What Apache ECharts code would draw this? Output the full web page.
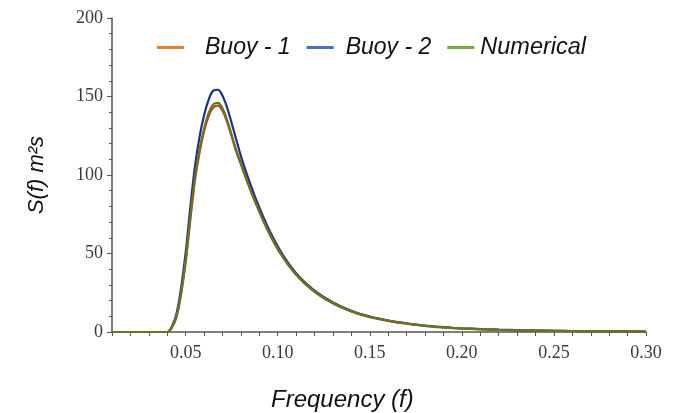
<!DOCTYPE html>
<html>
<head>
<meta charset="utf-8">
<script src="https://cdn.jsdelivr.net/npm/echarts@6/dist/echarts.min.js"></script>
<style>
html,body{margin:0;padding:0;background:#fff;}
#chart{width:678px;height:413px;}
</style>
</head>
<body>
<div id="chart"></div>
<script>
// Frequency grid (Hz)
var freq = [0.010,0.020,0.030,0.035,0.0375,0.040,0.0425,0.045,0.0475,0.050,0.0525,0.055,0.0575,0.060,0.0625,0.065,0.0675,0.070,0.0725,0.075,0.0775,0.080,0.0825,0.085,0.0875,0.090,0.0925,0.095,0.0975,0.100,0.1025,0.105,0.1075,0.110,0.1125,0.115,0.1175,0.120,0.1225,0.125,0.1275,0.130,0.135,0.140,0.145,0.150,0.155,0.160,0.165,0.170,0.175,0.180,0.185,0.190,0.195,0.200,0.210,0.220,0.230,0.240,0.250,0.260,0.270,0.280,0.290,0.300];
// Spectral density S(f) m^2 s
var numerical = [0,0,0,0,0,0,3,10,25,46,73,98,116,129.5,139.5,145,146,142.5,135,125.5,115.7,107.4,99.1,91.2,83.8,76.8,70.2,64.0,58.3,53.1,48.4,44.1,40.2,36.7,33.55,30.7,28.15,25.85,23.75,21.85,20.1,18.5,15.6,13.2,11.3,9.7,8.4,7.2,6.2,5.4,4.6,4.0,3.4,3.0,2.6,2.3,1.8,1.4,1.1,0.9,0.75,0.6,0.5,0.42,0.35,0.3];
var buoy1 = [0,0,0,0,0,0,2.8,9.5,24,44.5,71,96,114,127.8,137.5,143,144.2,141,133.8,124.5,114.8,106.8,98.6,90.9,83.5,76.5,69.9,63.7,58.0,52.8,48.1,43.8,39.9,36.4,33.25,30.4,27.85,25.55,23.45,21.55,19.8,18.2,15.4,13.0,11.1,9.5,8.2,7.0,6.0,5.3,4.5,3.9,3.3,2.9,2.5,2.2,1.7,1.3,1.0,0.85,0.7,0.55,0.45,0.38,0.32,0.28];
var buoy2 = [0,0,0,0,0,0,3.5,11.5,28,50.5,79,105,124,138,148,153.8,154.3,150.5,143,133,122.5,112,103,94.6,86.7,79.3,72.4,66,60,54.6,49.6,45.1,41.1,37.4,34.2,31.3,28.7,26.3,24.2,22.3,20.5,18.85,15.9,13.5,11.5,9.9,8.5,7.3,6.3,5.5,4.7,4.1,3.5,3.1,2.7,2.4,1.9,1.5,1.2,0.95,0.8,0.65,0.55,0.45,0.38,0.32];
var seriesNames = ['Buoy - 1','Buoy - 2','Numerical'];
var yTicks = [0,50,100,150,200];

function pairs(v){ return freq.map(function(f,i){ return [f, v[i]]; }); }

var chart = echarts.init(document.getElementById('chart'), null, {renderer:'canvas'});
var axisColor = '#555555';
var labelFont = {fontFamily:'Liberation Serif', fontSize:18, color:'#3a3a3a'};
var legendFont = {fontFamily:'Liberation Sans',fontStyle:'italic',fontSize:23,color:'#111'};
chart.setOption({
  backgroundColor:'#ffffff',
  animation:false,
  grid:{left:112,right:32,top:18,bottom:81,containLabel:false},
  legend:{
    top:31,left:152,itemGap:16,itemWidth:27,itemHeight:3,
    icon:'rect',
    textStyle:legendFont,
    data:[
      {name:seriesNames[0],itemStyle:{color:'#ED7D31'},textStyle:Object.assign({padding:[0,0,0,16]},legendFont)},
      {name:seriesNames[1],itemStyle:{color:'#4472C4'},textStyle:Object.assign({padding:[0,0,0,7]},legendFont)},
      {name:seriesNames[2],itemStyle:{color:'#70AD47'},textStyle:Object.assign({padding:[0,0,0,1]},Object.assign({},legendFont,{fontSize:23.5}))}
    ]
  },
  xAxis:{
    type:'value',min:0.01,max:0.30,interval:0.01,
    axisLine:{show:true,lineStyle:{color:axisColor,width:1.5}},
    axisTick:{show:true,length:4,inside:false,lineStyle:{color:axisColor,width:1}},
    splitLine:{show:false},
    axisLabel:Object.assign({margin:12,showMinLabel:true,showMaxLabel:true,
      formatter:function(v){ var k=Math.round(v*100); return (k%5===0)? (k/100).toFixed(2):''; }}, labelFont)
  },
  yAxis:{
    type:'value',min:yTicks[0],max:yTicks[yTicks.length-1],interval:50,
    name:'S(f) m²s',nameLocation:'middle',nameGap:64,nameRotate:90,
    nameTextStyle:{fontFamily:'Liberation Sans',fontStyle:'italic',fontSize:22,color:'#111'},
    axisLine:{show:true,lineStyle:{color:axisColor,width:1.5}},
    axisTick:{show:true,length:5,lineStyle:{color:axisColor,width:1}},
    minorTick:{show:true,splitNumber:5,length:3,lineStyle:{color:axisColor,width:1}},
    splitLine:{show:false},
    axisLabel:Object.assign({margin:9},labelFont)
  },
  graphic:[{
    type:'text',left:271,top:388,
    style:{text:'Frequency (f)',font:'italic 24px "Liberation Sans"',fill:'#111'}
  }],
  series:[
    {name:seriesNames[1],type:'line',data:pairs(buoy2),smooth:0.35,showSymbol:false,z:2,
     itemStyle:{color:'#4472C4'},lineStyle:{color:'#1f2d8c',width:2.2}},
    {name:seriesNames[0],type:'line',data:pairs(buoy1),smooth:0.35,showSymbol:false,z:3,
     itemStyle:{color:'#ED7D31'},lineStyle:{color:'#b8432c',width:2.2}},
    {name:seriesNames[2],type:'line',data:pairs(numerical),smooth:0.35,showSymbol:false,z:4,
     itemStyle:{color:'#70AD47'},lineStyle:{color:'#66761e',width:2.2}}
  ]
});
</script>
</body>
</html>
